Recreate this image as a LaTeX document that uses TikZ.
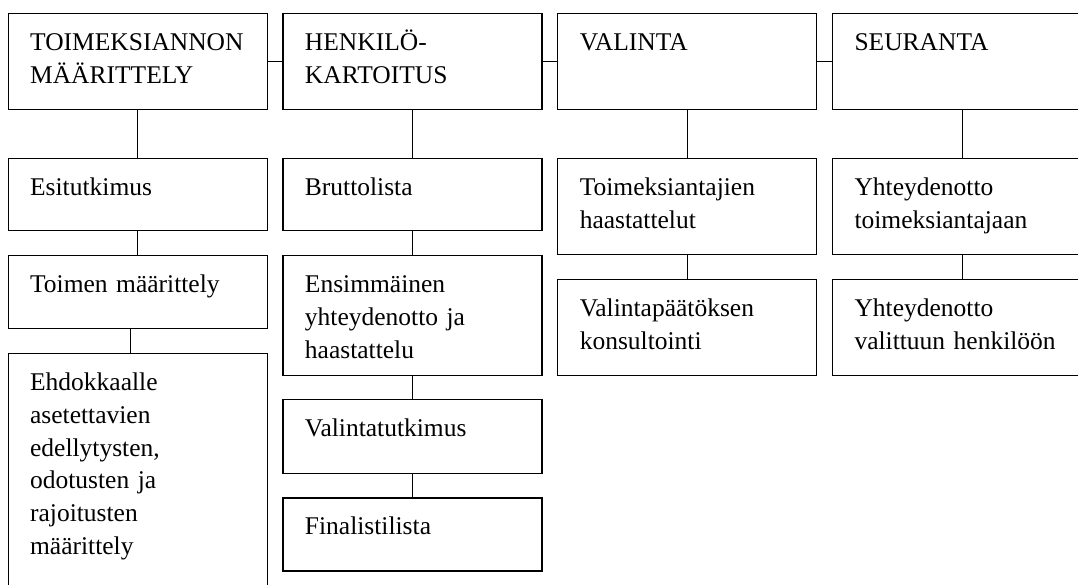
\documentclass[tikz,border=0pt]{standalone}
\usepackage{fontspec}
\setmainfont{Liberation Serif}
\usepackage{tikz}
\usetikzlibrary{positioning}

\begin{document}
\begin{tikzpicture}[
    x=1pt, y=-1pt,
    font=\fontsize{25.5pt}{32.7pt}\selectfont,
    node distance=24pt,
    box/.style={draw, line width=1.1pt, align=left, anchor=north west, text width=215pt, inner xsep=22pt, inner ysep=14pt, text height=23pt, text depth=#1},
    box/.default=45pt,
    con/.style={line width=0.7pt}
  ]
    \useasboundingbox (0,0) rectangle (1078,584);
    \clip (0,0) rectangle (1078,584);
    % top row
    \node[box] (t1) at (7.6,13) {TOIMEKSIANNON\\MÄÄRITTELY};
    \node[box, anchor=west, right=14.7pt of t1] (t2) {HENKILÖ-\\KARTOITUS};
    \node[box, anchor=west, right=14.7pt of t2] (t3) {VALINTA};
    \node[box, anchor=west, right=14.7pt of t3] (t4) {SEURANTA};
    % columns
    \node[box=21pt, below=48pt of t1] (a1) {Esitutkimus};
    \node[box=22pt, below=of a1] (a2) {Toimen määrittely};
    \node[box=230pt, below=of a2] (a3) {Ehdokkaalle\\asetettavien\\edellytysten,\\odotusten ja\\rajoitusten\\määrittely};
    \node[box=21pt, below=48pt of t2] (b1) {Bruttolista};
    \node[box=69pt, below=of b1] (b2) {Ensimmäinen\\yhteydenotto ja\\haastattelu};
    \node[box=23pt, below=23pt of b2] (b3) {Valintatutkimus};
    \node[box=22pt, below=23pt of b3] (b4) {Finalistilista};
    \node[box, below=48pt of t3] (c1) {Toimeksiantajien\\haastattelut};
    \node[box, below=of c1] (c2) {Valintapäätöksen\\konsultointi};
    \node[box, below=48pt of t4] (d1) {Yhteydenotto\\toimeksiantajaan};
    \node[box, below=of d1] (d2) {Yhteydenotto\\valittuun henkilöön};
    \draw[con] (t1) -- (t2);
    \draw[con] (t2) -- (t3);
    \draw[con] (t3) -- (t4);
    \draw[con] (t1) -- (a1);
    \draw[con] (a1) -- (a2);
    \draw[con] ([xshift=-7pt]a2.south) -- ([xshift=-7pt]a3.north);
    \draw[con] (t2) -- (b1);
    \draw[con] (b1) -- (b2);
    \draw[con] (b2) -- (b3);
    \draw[con] (b3) -- (b4);
    \draw[con] (t3) -- (c1);
    \draw[con] (c1) -- (c2);
    \draw[con] (t4) -- (d1);
    \draw[con] (d1) -- (d2);
  \end{tikzpicture}
\end{document}
